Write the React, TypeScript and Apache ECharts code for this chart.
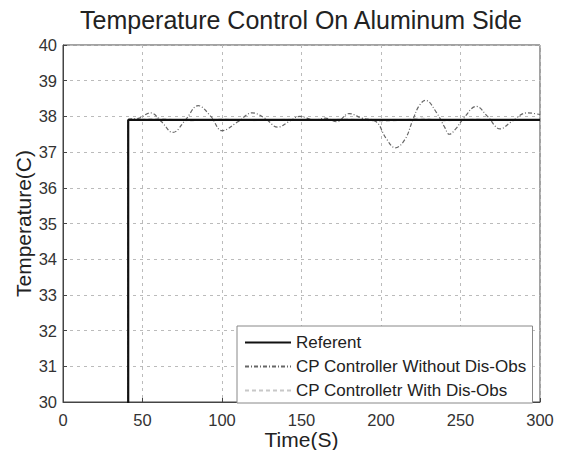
import React, { useEffect, useRef } from "react";
import * as echarts from "echarts";

const xTicks = [0, 50, 100, 150, 200, 250, 300];
const yTicks = [30, 31, 32, 33, 34, 35, 36, 37, 38, 39, 40];

const refTime = [0, 41, 41, 300];
const refTemp = [29.9, 29.9, 37.9, 37.9];

const woTime = [0, 41, 41, 48, 55, 62, 69, 77, 85, 93, 100, 110, 119, 127, 135, 142, 149, 158, 165, 172, 180, 188, 197, 203, 209, 215, 220, 224, 228, 235, 240, 243, 247, 252, 260, 267, 275, 282, 292, 300];
const woTemp = [29.9, 29.9, 37.9, 37.95, 38.1, 37.85, 37.55, 37.9, 38.3, 38.0, 37.6, 37.85, 38.1, 37.95, 37.7, 37.85, 38.0, 37.9, 37.95, 37.85, 38.08, 37.95, 37.85, 37.4, 37.12, 37.35, 37.9, 38.3, 38.45, 38.1, 37.7, 37.5, 37.65, 37.95, 38.28, 38.0, 37.65, 37.85, 38.1, 38.05];

const wTime = [0, 41, 41, 60, 80, 100, 120, 140, 160, 180, 200, 210, 225, 240, 260, 280, 300];
const wTemp = [29.9, 29.9, 37.9, 37.95, 37.87, 37.93, 37.88, 37.92, 37.9, 37.93, 37.85, 37.88, 37.96, 37.87, 37.93, 37.88, 37.92];

const names = ["Referent", "CP Controller Without Dis-Obs", "CP Controlletr With Dis-Obs"];

const pairs = (t: number[], v: number[]) => t.map((x, i) => [x, v[i]]);

const FONT = "Liberation Sans, Arial, sans-serif";

export default function App() {
  const ref = useRef<HTMLDivElement>(null);
  useEffect(() => {
    if (!ref.current) return;
    const chart = echarts.init(ref.current, null, { renderer: "svg" });
    chart.setOption({
      animation: false,
      backgroundColor: "#fff",
      title: {
        text: "Temperature Control On Aluminum Side",
        left: 301,
        textAlign: "center",
        top: 7,
        padding: 0,
        textStyle: { fontFamily: FONT, fontSize: 25, fontWeight: "normal", color: "#222" },
      },
      grid: {
        left: 63,
        right: 21,
        top: 45,
        bottom: 48,
        containLabel: false,
        outerBoundsMode: "none",
        show: true,
        borderColor: "#444",
        borderWidth: 1,
        backgroundColor: "transparent",
      },
      legend: {
        orient: "vertical",
        left: 237,
        top: 326,
        itemWidth: 46,
        itemHeight: 12,
        itemGap: 7,
        padding: [8, 6, 4, 7],
        borderColor: "#888",
        borderWidth: 1,
        backgroundColor: "#fff",
        itemStyle: { color: "transparent", borderColor: "transparent", borderWidth: 0 },
        textStyle: { fontFamily: FONT, fontSize: 17, color: "#222" },
        data: names,
      },
      xAxis: {
        type: "value",
        min: 0,
        max: 300,
        interval: 50,
        name: "Time(S)",
        nameLocation: "middle",
        nameGap: 27,
        nameMoveOverlap: false,
        nameTextStyle: { fontFamily: FONT, fontSize: 21, color: "#222" },
        axisLine: { show: true, lineStyle: { color: "#444" } },
        axisTick: { show: true, inside: true, length: 4, lineStyle: { color: "#444" } },
        axisLabel: {
          fontFamily: FONT,
          fontSize: 16.5,
          color: "#333",
          margin: 9,
          formatter: (v: number) => (xTicks.includes(v) ? String(v) : ""),
        },
        splitLine: { show: true, lineStyle: { color: "#bbb", type: [3, 4] } },
      },
      yAxis: {
        type: "value",
        min: 30,
        max: 40,
        interval: 1,
        name: "Temperature(C)",
        nameLocation: "middle",
        nameGap: 29,
        nameMoveOverlap: false,
        nameTextStyle: { fontFamily: FONT, fontSize: 21, color: "#222" },
        axisLine: { show: true, lineStyle: { color: "#444" } },
        axisTick: { show: true, inside: true, length: 4, lineStyle: { color: "#444" } },
        axisLabel: {
          fontFamily: FONT,
          fontSize: 16.5,
          color: "#333",
          margin: 6,
          formatter: (v: number) => (yTicks.includes(v) ? String(v) : ""),
        },
        splitLine: { show: true, lineStyle: { color: "#bbb", type: [3, 4] } },
      },
      series: [
        {
          name: names[2],
          type: "line",
          data: pairs(wTime, wTemp),
          showSymbol: false,
          symbol: "none",
          z: 2,
          color: "#d4d4d4",
          lineStyle: { color: "#c8c8c8", width: 1, type: [4, 3] },
        },
        {
          name: names[1],
          type: "line",
          data: pairs(woTime, woTemp),
          showSymbol: false,
          symbol: "none",
          smooth: 0.4,
          z: 3,
          color: "#666",
          lineStyle: { color: "#666", width: 1.2, type: [4, 2, 1, 2] },
        },
        {
          name: names[0],
          type: "line",
          data: pairs(refTime, refTemp),
          showSymbol: false,
          symbol: "none",
          z: 4,
          color: "#111",
          lineStyle: { color: "#111", width: 2.2 },
        },
      ],
    });
    return () => chart.dispose();
  }, []);
  return (
    <div
      ref={ref}
      style={{ position: "absolute", left: 0, top: 0, width: 561, height: 450 }}
    />
  );
}
